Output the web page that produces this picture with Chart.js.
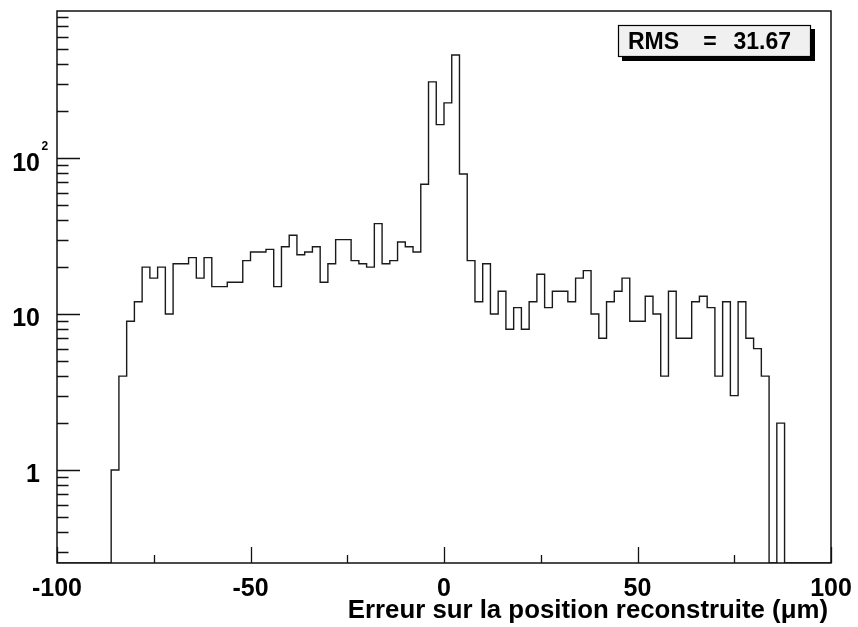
<!DOCTYPE html>
<html>
<head>
<meta charset="utf-8">
<script src="https://cdn.jsdelivr.net/npm/chart.js@4/dist/chart.umd.min.js"></script>
<style>
  html, body { margin: 0; padding: 0; background: #fff; }
  canvas { display: block; }
</style>
</head>
<body>
<canvas id="c" width="858" height="627"></canvas>
<script>
// ---- Data (histogram: 100 bins of width 2 from -100 to 100) ----
const binLow = -100;
const binWidth = 2;
const counts = [
  0, 0, 0, 0, 0, 0, 0,            // -100 .. -88
  1, 4, 9, 12, 20, 17, 20, 10,    // -86 .. -72
  21, 21, 23, 17, 23, 15, 15, 16, // -70 .. -56
  16, 22, 25, 25, 26, 15, 27, 32, // -54 .. -40
  24, 25, 27, 16, 21, 30, 30, 22, // -38 .. -24
  21, 20, 38, 21, 22, 29, 27, 25, // -22 .. -8
  68, 308, 164, 226, 458, 79, 22, 12, // -6 .. 8
  21, 10, 14, 8, 11, 8, 12, 18,   // 10 .. 24
  11, 14, 14, 12, 17, 19, 10, 7,  // 26 .. 40
  12, 14, 17, 9, 9, 13, 10, 4,    // 42 .. 56
  14, 7, 7, 12, 13, 11, 4, 12,    // 58 .. 72
  3, 12, 7, 6, 4, 0, 2,           // 74 .. 86
  0, 0, 0, 0, 0, 0                // 88 .. 98
];
const xMajorTicks = [-100, -50, 0, 50, 100];
const xMinorTicks = [-75, -25, 25, 75];
const xTickLabels = ['-100', '-50', '0', '50', '100'];
const yMajorTicks = [1, 10, 100];
const yTickLabels = [['1', ''], ['10', ''], ['10', '2']];
const xTitle = 'Erreur sur la position reconstruite (\u03bcm)';
const statName = 'RMS';
const statValue = '31.67';

const X_MIN = -100, X_MAX = 100;
const Y_MIN = Math.pow(10, -0.596);
const Y_MAX = Math.pow(10, 2.943);

const points = counts.map((c, i) => ({ x: binLow + i * binWidth, y: c > 0 ? c : Y_MIN }));
points.push({ x: binLow + counts.length * binWidth, y: Y_MIN });

const yMinorTicks = [];
[0.1, 1, 10, 100].forEach(d => {
  for (let k = 2; k <= 9; k++) {
    const v = d * k;
    if (v > Y_MIN && v < Y_MAX) yMinorTicks.push(v);
  }
});

const FONT = '"Liberation Sans", Arial, Helvetica, sans-serif';

const rootFrame = {
  id: 'rootFrame',
  afterDatasetsDraw(chart) {
    const ctx = chart.ctx;
    const a = chart.chartArea;
    const xs = chart.scales.x, ys = chart.scales.y;
    ctx.save();
    ctx.strokeStyle = '#111';
    ctx.lineWidth = 1.5;
    ctx.strokeRect(a.left, a.top, a.right - a.left, a.bottom - a.top);

    // y ticks (inside, from the left axis)
    ctx.lineWidth = 1.3;
    ctx.beginPath();
    yMajorTicks.forEach(v => {
      const y = Math.round(ys.getPixelForValue(v)) + 0.5;
      ctx.moveTo(a.left, y); ctx.lineTo(a.left + 23, y);
    });
    yMinorTicks.forEach(v => {
      const y = Math.round(ys.getPixelForValue(v)) + 0.5;
      ctx.moveTo(a.left, y); ctx.lineTo(a.left + 11.5, y);
    });
    // x ticks (inside, from the bottom axis)
    xMajorTicks.forEach(v => {
      const x = Math.round(xs.getPixelForValue(v)) + 0.5;
      ctx.moveTo(x, a.bottom); ctx.lineTo(x, a.bottom - 16);
    });
    xMinorTicks.forEach(v => {
      const x = Math.round(xs.getPixelForValue(v)) + 0.5;
      ctx.moveTo(x, a.bottom); ctx.lineTo(x, a.bottom - 8);
    });
    ctx.stroke();

    // tick labels
    ctx.fillStyle = '#000';
    ctx.font = 'bold 25px ' + FONT;
    ctx.textAlign = 'center';
    ctx.textBaseline = 'alphabetic';
    xMajorTicks.forEach((v, i) => {
      ctx.fillText(xTickLabels[i], xs.getPixelForValue(v), a.bottom + 33);
    });
    yMajorTicks.forEach((v, i) => {
      const y = ys.getPixelForValue(v);
      const [base, sup] = yTickLabels[i];
      ctx.font = 'bold 25px ' + FONT;
      ctx.textAlign = 'right';
      ctx.fillText(base, 40, y + (sup ? 13 : 11.5));
      if (sup) {
        ctx.font = 'bold 12px ' + FONT;
        ctx.textAlign = 'left';
        ctx.fillText(sup, 41.5, y - 8.5);
      }
    });

    // axis title
    ctx.font = 'bold 25.8px ' + FONT;
    ctx.textAlign = 'right';
    ctx.fillText(xTitle, 828, 618);

    // stats box
    const bx = 618, by = 25, bw = 193, bh = 32;
    ctx.fillStyle = '#000';
    ctx.fillRect(bx + 4, by + 4, bw, bh);
    ctx.fillStyle = '#f0f0f0';
    ctx.fillRect(bx, by, bw, bh);
    ctx.lineWidth = 1.2;
    ctx.strokeStyle = '#000';
    ctx.strokeRect(bx + 0.5, by + 0.5, bw - 1, bh - 1);
    ctx.fillStyle = '#000';
    ctx.font = 'bold 23px ' + FONT;
    ctx.textAlign = 'left';
    ctx.fillText(statName, 628, 48.5);
    ctx.textAlign = 'center';
    ctx.fillText('=', 710, 48.5);
    ctx.textAlign = 'right';
    ctx.fillText(statValue, 791, 48.5);
    ctx.restore();
  }
};

new Chart(document.getElementById('c'), {
  type: 'line',
  data: {
    datasets: [{
      data: points,
      stepped: 'before',
      borderColor: '#1a1a1a',
      borderWidth: 1.4,
      pointRadius: 0,
      fill: false,
      tension: 0
    }]
  },
  options: {
    responsive: false,
    animation: false,
    devicePixelRatio: 1,
    layout: { padding: { left: 57, right: 27, top: 11, bottom: 64 } },
    scales: {
      x: { type: 'linear', min: X_MIN, max: X_MAX, display: false },
      y: { type: 'logarithmic', min: Y_MIN, max: Y_MAX, display: false }
    },
    plugins: {
      legend: { display: false },
      tooltip: { enabled: false }
    }
  },
  plugins: [rootFrame]
});
</script>
</body>
</html>
